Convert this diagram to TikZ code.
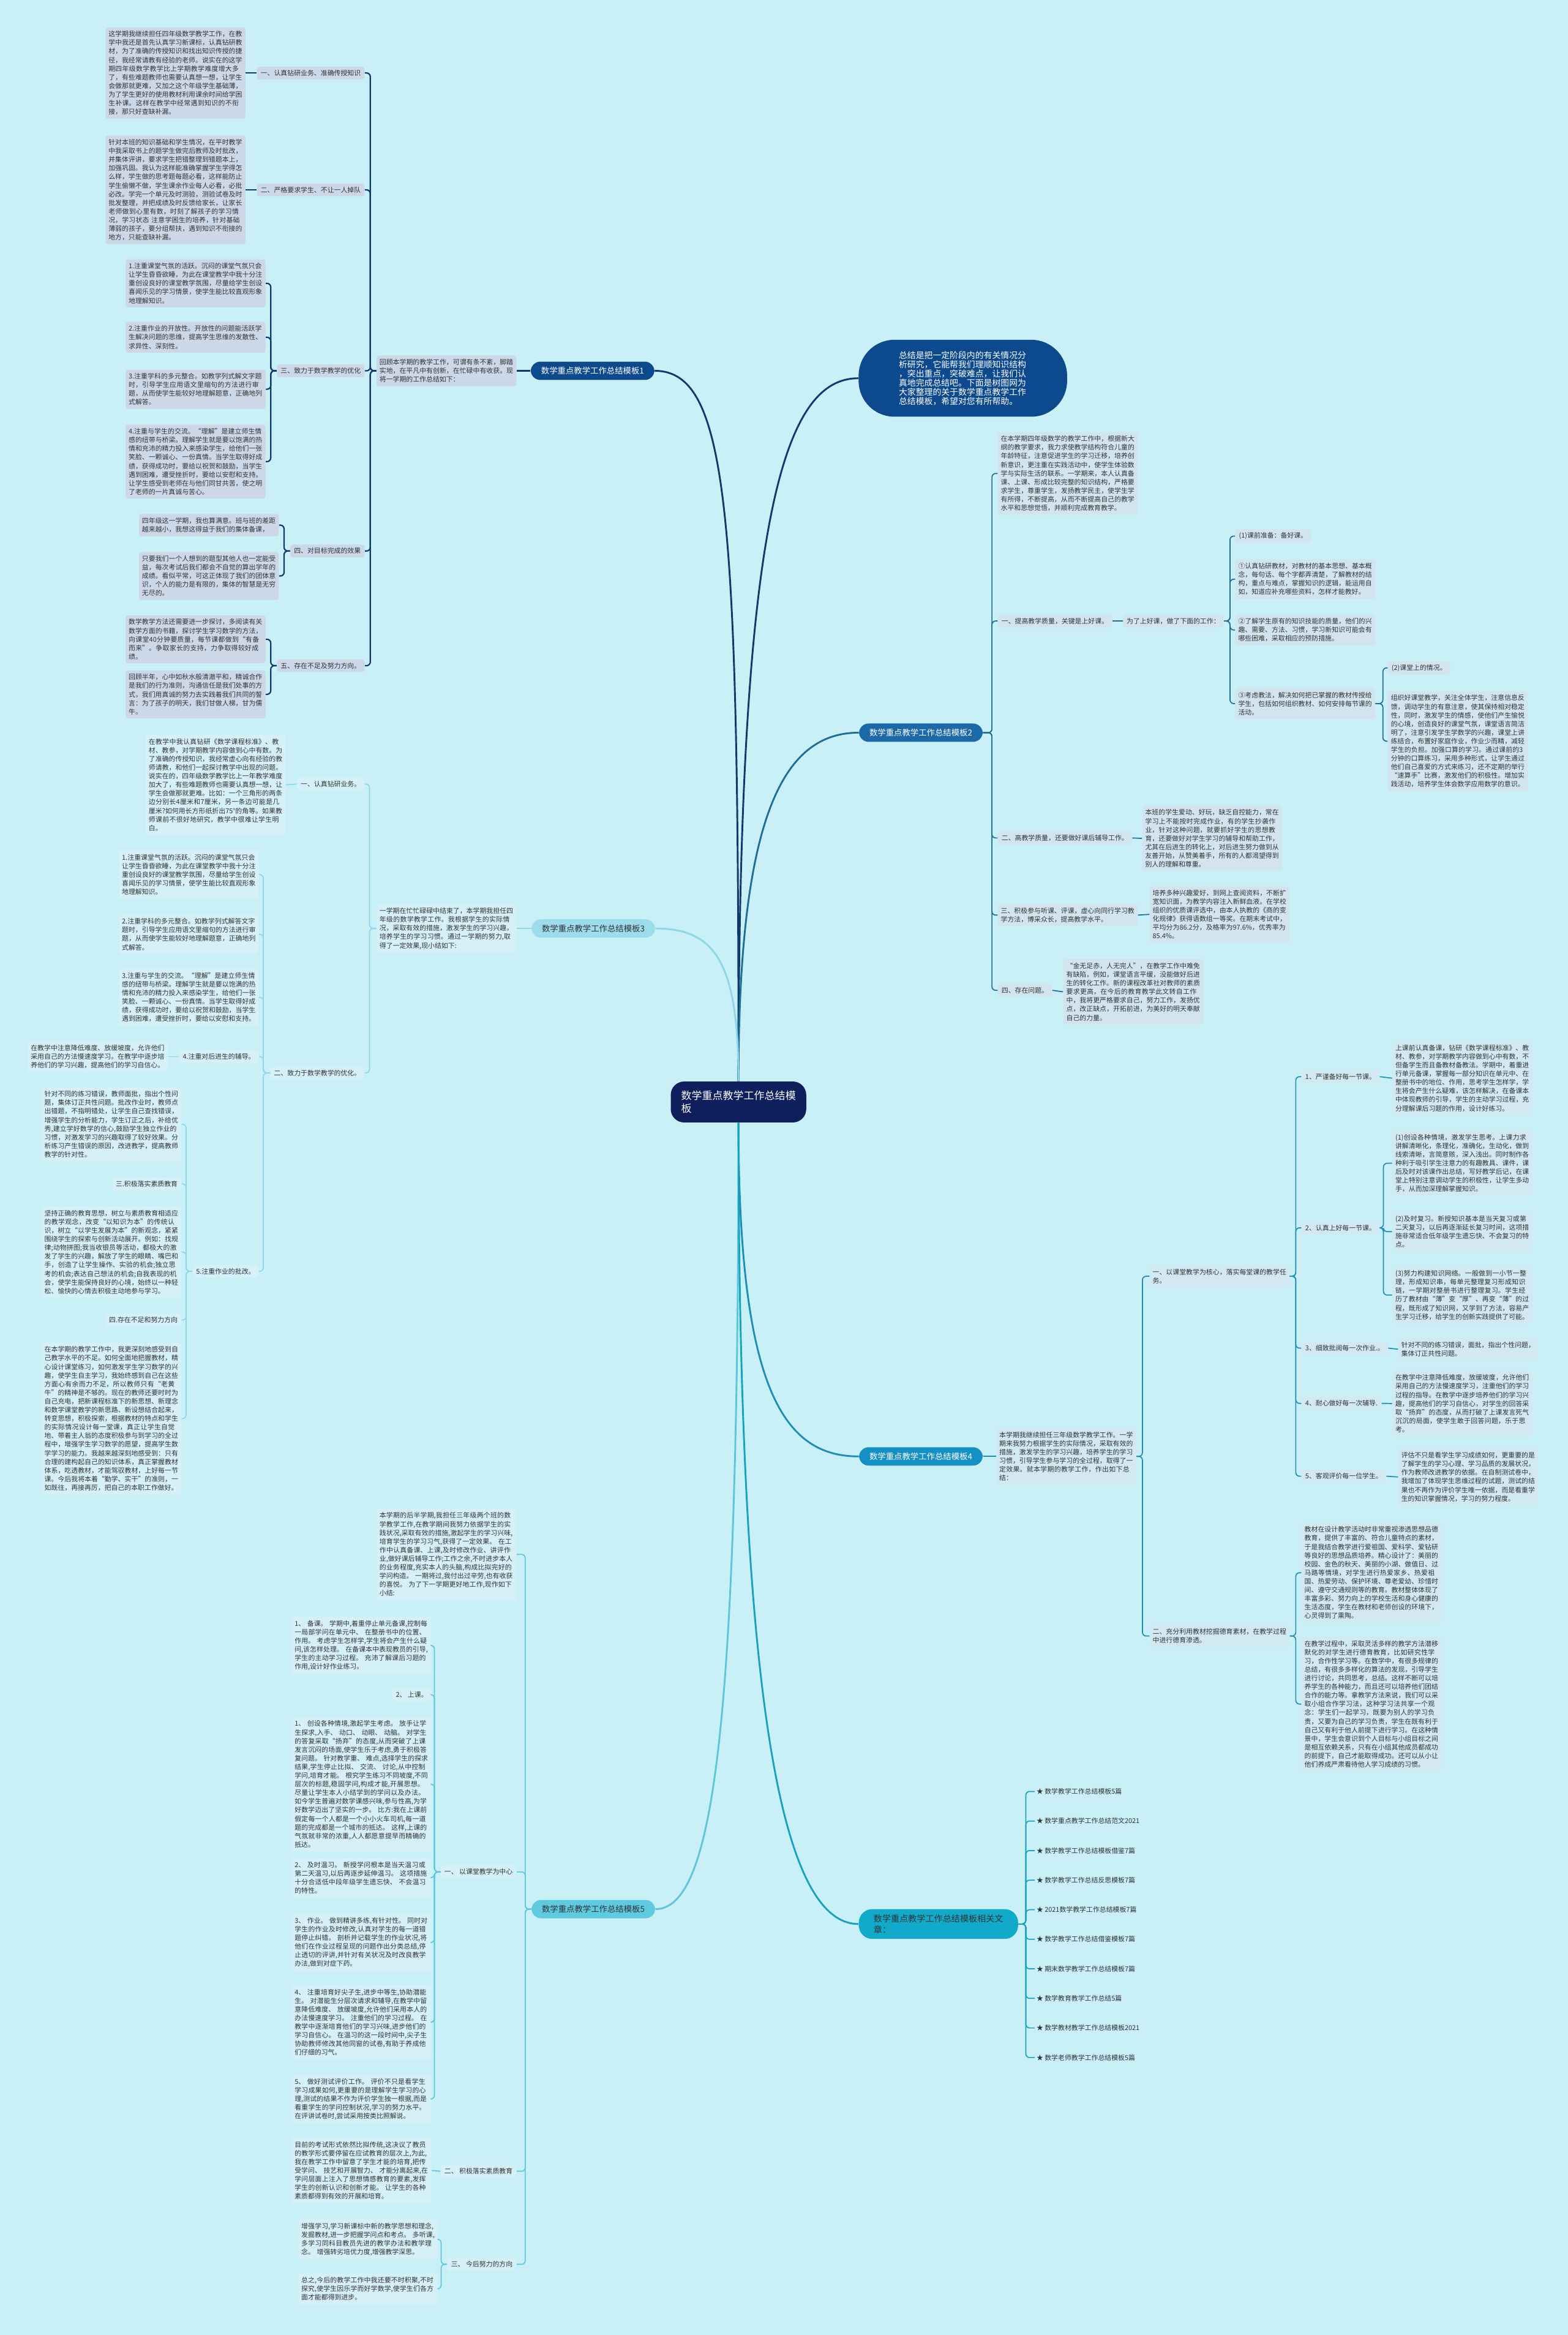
\documentclass[tikz,border=0pt]{standalone}
\usepackage{fontspec}
\newfontfamily\cjk{Noto Sans CJK SC}
\XeTeXlinebreaklocale "zh"
\XeTeXlinebreakskip=0pt plus 0.5pt
\usepackage{xcolor}
\definecolor{bgc}{HTML}{C9EFF7}
\definecolor{ink}{HTML}{303336}
\definecolor{ctrc}{HTML}{0E1F5C}
\definecolor{hubA}{HTML}{0D4A8D}
\definecolor{hubB}{HTML}{1C69A8}
\definecolor{hubC}{HTML}{9CDCEB}
\definecolor{hubD}{HTML}{1590C4}
\definecolor{hubE}{HTML}{5DCAE0}
\definecolor{hubF}{HTML}{11AACB}
\definecolor{leafA}{HTML}{CCD8E7}
\definecolor{leafB}{HTML}{D2E5EF}
\definecolor{leafC}{HTML}{D6F0F7}
\definecolor{leafD}{HTML}{D2E9F2}
\definecolor{leafE}{HTML}{D6F0F7}
\definecolor{lnA}{HTML}{10396E}
\definecolor{lnB}{HTML}{1E6E98}
\definecolor{lnC}{HTML}{8ED6E8}
\definecolor{lnD}{HTML}{1C8EB8}
\definecolor{lnE}{HTML}{5EC6DC}
\definecolor{lnF}{HTML}{17A3C0}

\begin{document}
\begin{tikzpicture}[x=1pt, y=-1pt,
  every node/.style={font=\cjk\fontsize{4.48}{5.8}\selectfont, text=ink},
  txt/.style={fill=#1, rounded corners=1.5pt, text width=89.9pt, align=left, inner xsep=2pt, inner ysep=2.4pt},
  tagb/.style={fill=#1, rounded corners=1.5pt, inner xsep=2.5pt, inner ysep=2.2pt},
  hub/.style={fill=#1, rounded corners=6.5pt, inner xsep=7pt, inner ysep=3.6pt, font=\cjk\fontsize{5.5}{6.5}\selectfont},
  wire/.style={draw=#1, line width=0.7pt, rounded corners=2.5pt}]
\fill[bgc] (0,0) rectangle (1053,1568);
\useasboundingbox (0,0) rectangle (1053,1568);

% root
\node[fill=ctrc, text=white, rounded corners=9pt, inner xsep=7pt, inner ysep=6pt, align=left,
  font=\cjk\fontsize{7}{9}\selectfont] (ctr) at (496,740) {数学重点教学工作总结模\\板};

% branch 1
\node[hub=hubA, text=white] (m1) at (398,249) {数学重点教学工作总结模板1};
\node[txt=leafA, anchor=east] (m1t) at (347,249) {回顾本学期的教学工作，可谓有条不紊，脚踏实地，在平凡中有创新，在忙碌中有收获。现将一学期的工作总结如下：};
\node[tagb=leafA, anchor=east] (l11) at (245,49) {一、认真钻研业务、准确传授知识};
\node[tagb=leafA, anchor=east] (l12) at (245,127.5) {二、严格要求学生、不让一人掉队};
\node[tagb=leafA, anchor=east] (l13) at (245,249) {三、致力于数学教学的优化};
\node[tagb=leafA, anchor=east] (l14) at (245,370) {四、对目标完成的效果};
\node[tagb=leafA, anchor=east] (l15) at (245,447) {五、存在不足及努力方向。};
\node[txt=leafA, anchor=east] (a11) at (165,49) {这学期我继续担任四年级数学教学工作，在教学中我还是首先认真学习新课标，认真钻研教材，为了准确的传授知识和找出知识传授的捷径，我经常请教有经验的老师。说实在的这学期四年级数学教学比上学期教学难度增大多了，有些难题教师也需要认真想一想，让学生会做那就更难，又加之这个年级学生基础薄，为了学生更好的使用教材利用课余时间给学困生补课。这样在教学中经常遇到知识的不衔接，那只好查缺补漏。};
\node[txt=leafA, anchor=east] (a12) at (165,127.5) {针对本班的知识基础和学生情况，在平时教学中我采取书上的题学生做完后教师及时批改，并集体评讲，要求学生把错整理到错题本上，加强巩固。我认为这样能准确掌握学生学得怎么样，学生做的思考题每题必看，这样能防止学生偷懒不做，学生课余作业每人必看，必批必改。学完一个单元及时测验，测验试卷及时批发整理，并把成绩及时反馈给家长，让家长老师做到心里有数，时刻了解孩子的学习情况，学习状态 注意学困生的培养，针对基础薄弱的孩子，要分组帮扶，遇到知识不衔接的地方，只能查缺补漏。};
\node[txt=leafA, anchor=north east] (a13) at (178.5,174) {1.注重课堂气氛的活跃。沉闷的课堂气氛只会让学生昏昏欲睡，为此在课堂教学中我十分注重创设良好的课堂教学氛围，尽量给学生创设喜闻乐见的学习情景，使学生能比较直观形象地理解知识。};
\node[txt=leafA, anchor=north east] (a14) at (178.5,216) {2.注重作业的开放性。开放性的问题能活跃学生解决问题的思维，提高学生思维的发散性、求异性、深刻性。};
\node[txt=leafA, anchor=north east] (a15) at (178.5,248) {3.注重学科的多元整合。如教学列式解文字题时，引导学生应用语文里缩句的方法进行审题，从而使学生能较好地理解题意，正确地列式解答。};
\node[txt=leafA, anchor=north east] (a16) at (178.5,285) {4.注重与学生的交流。“理解”是建立师生情感的纽带与桥梁。理解学生就是要以饱满的热情和充沛的精力投入来感染学生，给他们一张笑脸、一颗诚心、一份真情。当学生取得好成绩，获得成功时，要给以祝贺和鼓励，当学生遇到困难，遭受挫折时，要给以安慰和支持。让学生感受到老师在与他们同甘共苦，使之明了老师的一片真诚与苦心。};
\node[txt=leafA, anchor=north east] (a17) at (187.5,345) {四年级这一学期，我也算满意。班与班的差距越来越小，我想这得益于我们的集体备课，};
\node[txt=leafA, anchor=north east] (a18) at (187.5,370.5) {只要我们一个人想到的题型其他人也一定能受益，每次考试后我们都会不自觉的算出学年的成绩。看似平常，可这正体现了我们的团体意识，个人的能力是有限的，集体的智慧是无穷无尽的。};
\node[txt=leafA, anchor=north east] (a19) at (178.5,413) {数学教学方法还需要进一步探讨，多阅读有关数学方面的书籍，探讨学生学习数学的方法，向课堂40分钟要质量，每节课都做到“有备而来”。争取家长的支持，力争取得较好成绩。};
\node[txt=leafA, anchor=north east] (a20) at (178.5,450) {回顾半年，心中如秋水般清澈平和，精诚合作是我们的行为准则，沟通信任是我们处事的方式，我们用真诚的努力去实践着我们共同的誓言：为了孩子的明天，我们甘做人梯，甘为儒牛。};
\draw[wire=lnA, line width=0.9pt] (m1.west) -- (m1t.east);
\foreach \c in {l11,l12,l13,l14,l15} \draw[wire=lnA, line width=0.9pt] (m1t.west) -- ++(-4,0) |- (\c.east);
\foreach \p/\c in {l11/a11,l12/a12} \draw[wire=lnA, line width=0.9pt] (\p.west) -- (\c.east);
\foreach \c in {a13,a14,a15,a16} \draw[wire=lnA, line width=0.9pt] (l13.west) -- ++(-4,0) |- (\c.east);
\foreach \c in {a17,a18} \draw[wire=lnA, line width=0.9pt] (l14.west) -- ++(-4,0) |- (\c.east);
\foreach \c in {a19,a20} \draw[wire=lnA, line width=0.9pt] (l15.west) -- ++(-4,0) |- (\c.east);

% intro bubble
\node[fill=hubA, text=white, rounded corners=24pt, inner xsep=27pt, inner ysep=7.6pt, text width=86pt, align=left,
  font=\cjk\fontsize{5.7}{6.2}\selectfont, anchor=west] (intro) at (576.5,254)
  {总结是把一定阶段内的有关情况分\\析研究，它能帮我们理顺知识结构\\，突出重点，突破难点，让我们认\\真地完成总结吧。下面是树图网为\\大家整理的关于数学重点教学工作\\总结模板，希望对您有所帮助。};

% branch 2
\node[hub=hubB, text=white] (m2) at (618.5,492) {数学重点教学工作总结模板2};
\node[txt=leafB, anchor=north west] (m2t) at (670,290) {在本学期四年级数学的教学工作中，根据新大纲的教学要求，我力求使教学结构符合儿童的年龄特征，注意促进学生的学习迁移，培养创新意识，更注重在实践活动中，使学生体验数学与实际生活的联系。一学期来，本人认真备课、上课、形成比较完整的知识结构，严格要求学生，尊重学生，发扬教学民主，使学生学有所得，不断提高，从而不断提高自己的教学水平和思想觉悟，并顺利完成教育教学。};
\node[tagb=leafB, anchor=west] (l21) at (670,417) {一、提高教学质量，关键是上好课。};
\node[tagb=leafB, anchor=west] (l21b) at (754,417) {为了上好课，做了下面的工作：};
\node[tagb=leafB, anchor=west] (c1) at (829.5,360) {(1)课前准备：备好课。};
\node[txt=leafB, anchor=north west] (c2) at (829.5,375.5) {①认真钻研教材，对教材的基本思想、基本概念，每句话、每个字都弄清楚，了解教材的结构，重点与难点，掌握知识的逻辑，能运用自如，知道应补充哪些资料，怎样才能教好。};
\node[txt=leafB, anchor=north west] (c3) at (829.5,412.5) {②了解学生原有的知识技能的质量，他们的兴趣、需要、方法、习惯，学习新知识可能会有哪些困难，采取相应的预防措施。};
\node[txt=leafB, anchor=north west] (c4) at (829.5,462) {③考虑教法，解决如何把已掌握的教材传授给学生，包括如何组织教材、如何安排每节课的活动。};
\node[tagb=leafB, anchor=west] (d1) at (932,448.5) {(2)课堂上的情况。};
\node[txt=leafB, anchor=north west] (d2) at (932,464) {组织好课堂教学，关注全体学生，注意信息反馈，调动学生的有意注意，使其保持相对稳定性，同时，激发学生的情感，使他们产生愉悦的心境，创造良好的课堂气氛，课堂语言简洁明了，注意引发学生学数学的兴趣，课堂上讲练结合，布置好家庭作业，作业少而精，减轻学生的负担。加强口算的学习。通过课前的3分钟的口算练习，采用多种形式，让学生通过他们自己喜爱的方式来练习，还不定期的举行“速算手”比赛，激发他们的积极性。增加实践活动，培养学生体会数学应用数学的意识。};
\node[tagb=leafB, anchor=west] (l22) at (670,562.7) {二、高教学质量，还要做好课后辅导工作。};
\node[txt=leafB, anchor=west] (e1) at (767,563) {本班的学生爱动、好玩，缺乏自控能力，常在学习上不能按时完成作业，有的学生抄袭作业，针对这种问题，就要抓好学生的思想教育，还要做好对学生学习的辅导和帮助工作，尤其在后进生的转化上，对后进生努力做到从友善开始，从赞美着手，所有的人都渴望得到别人的理解和尊重。};
\node[txt=leafB, anchor=west] (l23) at (670,614.5) {三、积极参与听课、评课，虚心向同行学习教学方法，博采众长，提高教学水平。};
\node[txt=leafB, anchor=west] (f1) at (772,614) {培养多种兴趣爱好，到网上查阅资料，不断扩宽知识面，为教学内容注入新鲜血液。在学校组织的优质课评选中，由本人执教的《商的变化规律》获得语数组一等奖。在期末考试中，平均分为86.2分，及格率为97.6\%，优秀率为85.4\%。};
\node[tagb=leafB, anchor=west] (l24) at (670,665) {四、存在问题。};
\node[txt=leafB, anchor=west] (g1) at (714,666) {“金无足赤，人无完人”，在教学工作中难免有缺陷，例如，课堂语言平缓，没能做好后进生的转化工作。新的课程改革社对教师的素质要求更高，在今后的教育教学此文转自工作中，我将更严格要求自己，努力工作，发扬优点，改正缺点，开拓前进，为美好的明天奉献自己的力量。};
\foreach \c in {m2t,l21,l22,l23,l24} \draw[wire=lnB] (m2.east) -- ++(6,0) |- (\c.west);
\draw[wire=lnB] (l21.east) -- (l21b.west);
\foreach \c in {c1,c2,c3,c4} \draw[wire=lnB] (l21b.east) -- ++(4,0) |- (\c.west);
\foreach \c in {d1,d2} \draw[wire=lnB] (c4.east) -- ++(5,0) |- (\c.west);
\foreach \p/\c in {l22/e1,l23/f1,l24/g1} \draw[wire=lnB] (\p.east) -- (\c.west);

% branch 3
\node[hub=hubC] (m3) at (398.5,623.5) {数学重点教学工作总结模板3};
\node[txt=leafC, anchor=east] (m3t) at (347,623.5) {一学期在忙忙碌碌中结束了，本学期我担任四年级的数学教学工作。我根据学生的实际情况，采取有效的措施，激发学生的学习兴趣，培养学生的学习习惯。通过一学期的努力,取得了一定效果,现小结如下:};
\node[tagb=leafC, anchor=east] (l31) at (245,526.5) {一、认真钻研业务。};
\node[tagb=leafC, anchor=east] (l32) at (245,720.5) {二、致力于数学教学的优化。};
\node[txt=leafC, anchor=east] (h1) at (192,527) {在教学中我认真钻研《数学课程标准》、教材、教参，对学期教学内容做到心中有数。为了准确的传授知识，我经常虚心向有经验的教师请教，和他们一起探讨教学中出现的问题。说实在的，四年级数学教学比上一年教学难度加大了，有些难题教师也需要认真想一想，让学生会做那就更难。比如：一个三角形的两条边分别长4厘米和7厘米，另一条边可能是几厘米?如何用长方形纸折出75°的角等。如果教师课前不很好地研究，教学中很难让学生明白。};
\node[txt=leafC, anchor=north east] (i1) at (174,571) {1.注重课堂气氛的活跃。沉闷的课堂气氛只会让学生昏昏欲睡，为此在课堂教学中我十分注重创设良好的课堂教学氛围，尽量给学生创设喜闻乐见的学习情景，使学生能比较直观形象地理解知识。};
\node[txt=leafC, anchor=north east] (i2) at (174,614) {2.注重学科的多元整合。如教学列式解答文字题时，引导学生应用语文里缩句的方法进行审题，从而使学生能较好地理解题意，正确地列式解答。};
\node[txt=leafC, anchor=north east] (i3) at (174,650.5) {3.注重与学生的交流。“理解”是建立师生情感的纽带与桥梁。理解学生就是要以饱满的热情和充沛的精力投入来感染学生，给他们一张笑脸、一颗诚心、一份真情。当学生取得好成绩，获得成功时，要给以祝贺和鼓励，当学生遇到困难，遭受挫折时，要给以安慰和支持。};
\node[tagb=leafC, anchor=east] (i4) at (174,709.5) {4.注重对后进生的辅导。};
\node[txt=leafC, anchor=east] (i4t) at (112.8,709.5) {在教学中注意降低难度、放缓坡度，允许他们采用自己的方法慢速度学习。在教学中逐步培养他们的学习兴趣，提高他们的学习自信心。};
\node[tagb=leafC, anchor=east] (i5) at (174,853.7) {5.注重作业的批改。};
\node[txt=leafC, anchor=north east] (j1) at (122,730) {针对不同的练习错误，教师面批，指出个性问题，集体订正共性问题。批改作业时，教师点出错题，不指明错处，让学生自己查找错误，增强学生的分析能力，学生订正之后，补给优秀,建立学好数学的信心,鼓励学生独立作业的习惯，对激发学习的兴趣取得了较好效果。分析练习产生错误的原因，改进教学，提高教师教学的针对性。};
\node[tagb=leafC, anchor=east] (j2) at (122,795) {三.积极落实素质教育};
\node[txt=leafC, anchor=north east] (j3) at (122,810) {坚持正确的教育思想，树立与素质教育相适应的教学观念，改变“以知识为本”的传统认识，树立“以学生发展为本”的新观念，紧紧围绕学生的探索与创新活动展开。例如：找规律;动物拼图;我当收银员等活动，都极大的激发了学生的兴趣，解放了学生的眼睛、嘴巴和手，创造了让学生操作、实验的机会;独立思考的机会;表达自己想法的机会;自我表现的机会，使学生能保持良好的心境，始终以一种轻松、愉快的心情去积极主动地参与学习。};
\node[tagb=leafC, anchor=east] (j4) at (122,886.4) {四.存在不足和努力方向};
\node[txt=leafC, anchor=north east] (j5) at (122,901.5) {在本学期的教学工作中，我更深刻地感受到自己教学水平的不足。如何全面地把握教材，精心设计课堂练习，如何激发学生学习数学的兴趣，使学生自主学习，我始终感到自己在这些方面心有余而力不足，所以教师只有“老黄牛”的精神是不够的。现在的教师还要时时为自己充电，把新课程标准下的新思想、新理念和数学课堂教学的新思路、新设想结合起来，转变思想，积极探索，根据教材的特点和学生的实际情况设计每一堂课，真正让学生自觉地、带着主人翁的态度积极参与到学习的全过程中，增强学生学习数学的愿望，提高学生数学学习的能力。我越来越深刻地感受到：只有合理的建构起自己的知识体系，真正掌握教材体系，吃透教材，才能驾驭教材，上好每一节课。今后我将本着“勤学、实干”的准则，一如既往，再接再厉，把自己的本职工作做好。};
\draw[wire=lnC] (m3.west) -- (m3t.east);
\foreach \c in {l31,l32} \draw[wire=lnC] (m3t.west) -- ++(-4.5,0) |- (\c.east);
\draw[wire=lnC] (l31.west) -- (h1.east);
\foreach \c in {i1,i2,i3,i4,i5} \draw[wire=lnC] (l32.west) -- ++(-4.5,0) |- (\c.east);
\draw[wire=lnC] (i4.west) -- (i4t.east);
\foreach \c in {j1,j2,j3,j4,j5} \draw[wire=lnC] (i5.west) -- ++(-4,0) |- (\c.east);

% branch 4
\node[hub=hubD, text=white] (m4) at (618.5,978) {数学重点教学工作总结模板4};
\node[txt=leafD, anchor=west] (m4t) at (669,978) {本学期我继续担任三年级数学教学工作。一学期来我努力根据学生的实际情况，采取有效的措施，激发学生的学习兴趣，培养学生的学习习惯，引导学生参与学习的全过程，取得了一定效果。就本学期的教学工作，作出如下总结：};
\node[txt=leafD, anchor=west] (l41) at (772,857) {一、以课堂教学为核心，落实每堂课的教学任务。};
\node[txt=leafD, anchor=west] (l42) at (772,1098.6) {二、充分利用教材挖掘德育素材，在教学过程中进行德育渗透。};
\node[tagb=leafD, anchor=west] (k1) at (874,723) {1、严谨备好每一节课。};
\node[txt=leafD, anchor=west] (k1t) at (935,724) {上课前认真备课，钻研《数学课程标准》、教材、教参，对学期教学内容做到心中有数，不但备学生而且备教材备教法。学期中，着重进行单元备课，掌握每一部分知识在单元中、在整册书中的地位、作用，思考学生怎样学，学生将会产生什么疑难，该怎样解决，在备课本中体现教师的引导，学生的主动学习过程，充分理解课后习题的作用，设计好练习。};
\node[tagb=leafD, anchor=west] (k2) at (874,824.5) {2、认真上好每一节课。};
\node[txt=leafD, anchor=north west] (k2a) at (935,759) {(1)创设各种情境，激发学生思考。上课力求讲解清晰化，条理化，准确化，生动化，做到线索清晰，言简意赅，深入浅出。同时制作各种利于吸引学生注意力的有趣教具、课件，课后及时对该课作出总结，写好教学后记，在课堂上特别注意调动学生的积极性，让学生多动手，从而加深理解掌握知识。};
\node[txt=leafD, anchor=north west] (k2b) at (935,813.7) {(2)及时复习。新授知识基本是当天复习或第二天复习，以后再逐渐延长复习时间，这项措施非常适合低年级学生遗忘快、不会复习的特点。};
\node[txt=leafD, anchor=north west] (k2c) at (935,850.4) {(3)努力构建知识网络。一般做到一小节一整理，形成知识串，每单元整理复习形成知识链，一学期对整册书进行整理复习。学生经历了教材由“薄”变“厚”、再变“薄”的过程，既形成了知识网，又学到了方法，容易产生学习迁移，给学生的创新实践提供了可能。};
\node[tagb=leafD, anchor=west] (k3) at (874,905.3) {3、细致批阅每一次作业.。};
\node[txt=leafD, anchor=west] (k3t) at (939,906) {针对不同的练习错误，面批，指出个性问题，集体订正共性问题。};
\node[tagb=leafD, anchor=west] (k4) at (874,942.4) {4、耐心做好每一次辅导.};
\node[txt=leafD, anchor=west] (k4t) at (935,942.5) {在教学中注意降低难度，放缓坡度，允许他们采用自己的方法慢速度学习，注重他们的学习过程的指导。在教学中逐步培养他们的学习兴趣，提高他们的学习自信心，对学生的回答采取“扬弃”的态度，从而打破了上课发言死气沉沉的局面，使学生敢于回答问题，乐于思考。};
\node[tagb=leafD, anchor=west] (k5) at (874,991.3) {5、客观评价每一位学生。};
\node[txt=leafD, anchor=west] (k5t) at (939,991.8) {评估不只是看学生学习成绩如何，更重要的是了解学生的学习心理、学习品质的发展状况，作为教师改进教学的依据。在自制测试卷中，我增加了体现学生思维过程的试题，测试的结果也不再作为评价学生唯一依据，而是看重学生的知识掌握情况，学习的努力程度。};
\node[txt=leafD, anchor=north west] (n1) at (874,1022.4) {教材在设计教学活动时非常重视渗透思想品德教育，提供了丰富的、符合儿童特点的素材，于是我结合教学进行爱祖国、爱科学、爱钻研等良好的思想品质培养。精心设计了：美丽的校园、金色的秋天、美丽的小湖、做值日、过马路等情境，对学生进行热爱家乡、热爱祖国、热爱劳动、保护环境、尊老爱幼、珍惜时间、遵守交通规则等的教育。教材整体体现了丰富多彩、努力向上的学校生活和身心健康的生活态度，学生在教材和老师创设的环境下，心灵得到了熏陶。};
\node[txt=leafD, anchor=north west] (n2) at (874,1099) {在教学过程中，采取灵活多样的教学方法潜移默化的对学生进行德育教育，比如研究性学习，合作性学习等。在数学中，有很多规律的总结，有很多多样化的算法的发现，引导学生进行讨论，共同思考，总结。这样不断可以培养学生的各种能力，而且还可以培养他们团结合作的能力等。拿教学方法来说，我们可以采取小组合作学习法，这种学习法共享一个观念：学生们一起学习，既要为别人的学习负责，又要为自己的学习负责，学生在既有利于自己又有利于他人前提下进行学习。在这种情景中，学生会意识到个人目标与小组目标之间是相互依赖关系，只有在小组其他成员都成功的前提下，自己才能取得成功。还可以从小让他们养成严肃看待他人学习成绩的习惯。};
\draw[wire=lnD] (m4.east) -- (m4t.west);
\foreach \c in {l41,l42} \draw[wire=lnD] (m4t.east) -- ++(4,0) |- (\c.west);
\foreach \c in {k1,k2,k3,k4,k5} \draw[wire=lnD] (l41.east) -- ++(4,0) |- (\c.west);
\foreach \p/\c in {k1/k1t,k3/k3t,k4/k4t,k5/k5t} \draw[wire=lnD] (\p.east) -- (\c.west);
\foreach \c in {k2a,k2b,k2c} \draw[wire=lnD] (k2.east) -- ++(2.5,0) |- (\c.west);
\foreach \c in {n1,n2} \draw[wire=lnD] (l42.east) -- ++(4,0) |- (\c.west);

% branch 5
\node[hub=hubE] (m5) at (398.5,1282) {数学重点教学工作总结模板5};
\node[txt=leafE, anchor=north east] (m5t) at (347,1013) {本学期的后半学期,我担任三年级两个班的数学教学工作,在教学期间我努力依据学生的实践状况,采取有效的措施,激起学生的学习兴味,培育学生的学习习气,获得了一定效果。 在工作中认真备课、上课,及时修改作业、讲评作业,做好课后辅导工作;工作之余,不时进步本人的业务程度,充实本人的头脑,构成比拟完好的学问构造。 一期将过,我付出过辛劳,也有收获的喜悦。 为了下一学期更好地工作,现作如下小结:};
\node[tagb=leafE, anchor=east] (l51) at (347,1257) {一、 以课堂教学为中心};
\node[tagb=leafE, anchor=east] (l52) at (347,1458) {二、 积极落实素质教育};
\node[tagb=leafE, anchor=east] (l53) at (347,1520.5) {三、 今后努力的方向};
\node[txt=leafE, anchor=north east] (p1) at (290,1085.5) {1、 备课。 学期中,着重停止单元备课,控制每一局部学问在单元中、 在整册书中的位置、 作用。 考虑学生怎样学,学生将会产生什么疑问,该怎样处理。 在备课本中表现教员的引导,学生的主动学习过程。 充沛了解课后习题的作用,设计好作业练习。};
\node[tagb=leafE, anchor=east] (p2) at (290,1138) {2、 上课。};
\node[txt=leafE, anchor=north east] (p3) at (290,1152.8) {1、 创设各种情境,激起学生考虑。 放手让学生探求,入手、 动口、 动眼、 动脑。 对学生的答复采取“扬弃”的态度,从而突破了上课发言沉闷的场面,使学生乐于考虑,勇于积极答复问题。 针对教学重、 难点,选择学生的探求结果,学生停止比拟、 交流、 讨论,从中控制学问,培育才能。 根究学生练习不同坡度,不同层次的标题,稳固学问,构成才能,开展思想。 尽量让学生本人小结学到的学问以及办法。 如今学生普遍对数学课感兴味,参与性高,为学好数学迈出了坚实的一步。 比方:我在上课前假定每一个人都是一个小小火车司机,每一道题的完成都是一个城市的抵达。 这样,上课的气氛就非常的浓重,人人都愿意提早而精确的抵达。};
\node[txt=leafE, anchor=north east] (p4) at (290,1247.5) {2、 及时温习。 新授学问根本是当天温习或第二天温习,以后再逐步延伸温习。 这项措施十分合适低中段年级学生遗忘快、 不会温习的特性。};
\node[txt=leafE, anchor=north east] (p5) at (290,1285) {3、 作业。 做到精讲多练,有针对性。 同时对学生的作业及时修改,认真对学生的每一道错题停止纠错。 剖析并记载学生的作业状况,将他们在作业过程呈现的问题作出分类总结,停止透切的评讲,并针对有关状况及时改良教学办法,做到对症下药。};
\node[txt=leafE, anchor=north east] (p6) at (290,1333) {4、 注重培育好尖子生,进步中等生,协助潜能生。 对潜能生分层次请求和辅导,在教学中留意降低难度、 放缓坡度,允许他们采用本人的办法慢速度学习。 注重他们的学习过程。 在教学中逐渐培育他们的学习兴味,进步他们的学习自信心。 在温习的这一段时间中,尖子生协助教师修改其他同窗的试卷,有助于养成他们仔细的习气。};
\node[txt=leafE, anchor=north east] (p7) at (290,1393) {5、 做好测试评价工作。 评价不只是看学生学习成果如何,更重要的是理解学生学习的心理,测试的结果不作为评价学生独一根据,而是看重学生的学问控制状况,学习的努力水平。 在评讲试卷时,尝试采用按类比照解说。};
\node[txt=leafE, anchor=east] (q1) at (290,1457.5) {目前的考试形式依然比拟传统,这决议了教员的教学形式要停留在应试教育的层次上,为此,我在教学工作中留意了学生才能的培育,把传受学问、 技艺和开展智力、 才能分离起来,在学问层面上注入了思想情感教育的要素,发挥学生的创新认识和创新才能。 让学生的各种素质都得到有效的开展和培育。};
\node[txt=leafE, anchor=north east] (r1) at (294.5,1490) {增强学习,学习新课标中新的教学思想和理念,发掘教材,进一步把握学问点和考点。 多听课,多学习同科目教员先进的教学办法和教学理念。 增强转劣培优力度,增强教学深思。};
\node[txt=leafE, anchor=north east] (r2) at (294.5,1526.5) {总之,今后的教学工作中我还要不时积聚,不时探究,使学生因乐学而好学数学,使学生们各方面才能都得到进步。};
\foreach \c in {m5t,l51,l52,l53} \draw[wire=lnE] (m5.west) -- ++(-4,0) |- (\c.east);
\foreach \c in {p1,p2,p3,p4,p5,p6,p7} \draw[wire=lnE] (l51.west) -- ++(-4,0) |- (\c.east);
\draw[wire=lnE] (l52.west) -- (q1.east);
\foreach \c in {r1,r2} \draw[wire=lnE] (l53.west) -- ++(-4,0) |- (\c.east);

% related articles
\node[hub=hubF, rounded corners=9pt, inner xsep=10pt, inner ysep=3.6pt, align=left,
  font=\cjk\fontsize{5.8}{7.4}\selectfont, anchor=west] (rel) at (576.6,1292) {数学重点教学工作总结模板相关文\\章：};
\foreach \i/\t in {1/数学教学工作总结模板5篇, 2/数学重点教学工作总结范文2021, 3/数学教学工作总结模板借鉴7篇,
  4/数学教学工作总结反思模板7篇, 5/2021数学教学工作总结模板7篇, 6/数学教学工作总结借鉴模板7篇,
  7/期末数学教学工作总结模板7篇, 8/数学教育教学工作总结5篇, 9/数学教材教学工作总结模板2021, 10/数学老师教学工作总结模板5篇}
  \node[anchor=west, inner sep=1pt] (z\i) at (695,{1183.15+19.85*\i}) {★ \t};
\foreach \i in {1,...,10} \draw[wire=lnF] (rel.east) -- ++(5,0) |- (z\i.west);

% root to main topics
\foreach \n/\side/\dy/\dx/\col in {m1/east/-380/50/lnA, intro/west/-380/-50/lnA, m2/west/-180/-50/lnB, m3/east/-80/40/lnC}
  \draw[\col, line width=1.2pt] (ctr.north) .. controls +(0,\dy) and +(\dx,0) .. (\n.\side);
\foreach \n/\side/\dy/\dx/\col in {m4/west/180/-50/lnD, m5/east/400/40/lnE, rel/west/400/-50/lnF}
  \draw[\col, line width=1.2pt] (ctr.south) .. controls +(0,\dy) and +(\dx,0) .. (\n.\side);
\end{tikzpicture}
\end{document}
